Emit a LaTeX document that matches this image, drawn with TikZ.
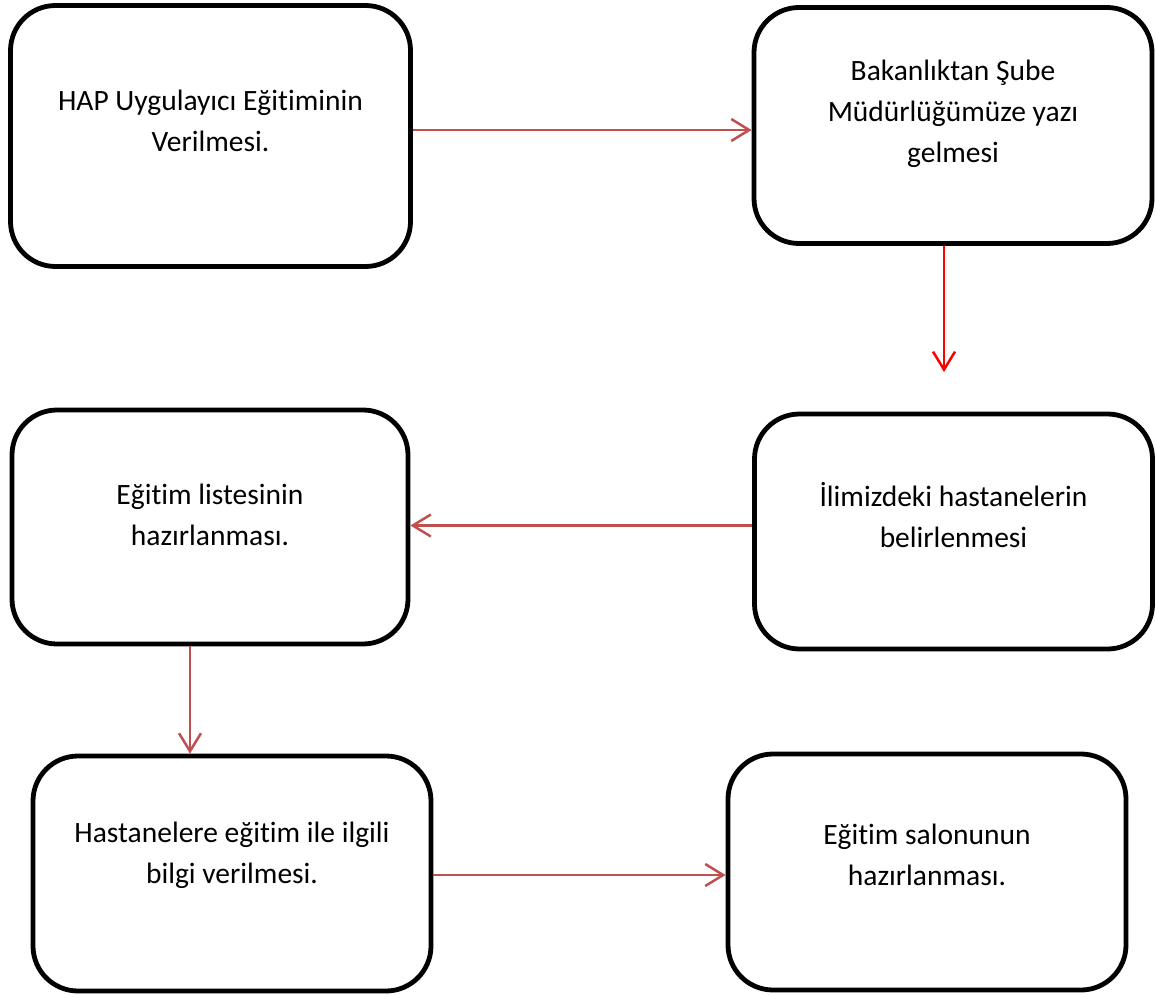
\documentclass[tikz,border=0pt]{standalone}
\usepackage{fontspec}
\setmainfont{Carlito}[Ligatures=NoCommon]
\usepackage{xcolor}
\usepackage{tikz}
\usetikzlibrary{arrows.meta, positioning, calc}
\definecolor{arrowred}{HTML}{C0504D}

\begin{document}
\begin{tikzpicture}[
    x=1pt, y=-1pt,
    box/.style={rectangle, draw, line width=4.8pt, rounded corners=45pt, minimum width=398pt, minimum height=236pt},
    txt/.style={align=center, font=\fontsize{29.5}{41}\selectfont},
    arrow/.style={line width=2.5pt, draw=arrowred, -{Straight Barb[length=18pt, width=22pt]}},
    redarrow/.style={line width=2.5pt, draw=red, -{Straight Barb[length=18pt, width=22pt]}}
]
\useasboundingbox (0,0) rectangle (1156,995);

\node[box, minimum width=400pt, minimum height=261pt] (hap) at (210.5,136) {};
\node[txt] (haptxt) at ([yshift=15pt]hap.center) {HAP Uygulayıcı Eğitiminin\\Verilmesi.};

\node[box] (bakan) at (953,125.5) {};
\node[txt] (bakantxt) at ([yshift=12pt]bakan.center) {Bakanlıktan Şube\\Müdürlüğümüze yazı\\gelmesi};

\node[box, minimum width=396pt, minimum height=234pt] (liste) at (210,527) {};
\node[txt] (listetxt) at ([yshift=12pt]liste.center) {Eğitim listesinin\\hazırlanması.};

\node[box, minimum height=235pt] (hastane) at (953.5,531.5) {};
\node[txt] (hastanetxt) at ([yshift=16pt]hastane.center) {İlimizdeki hastanelerin\\belirlenmesi};

\node[box, minimum height=235pt] (bilgi) at (232,873.5) {};
\node[txt] (bilgitxt) at ([yshift=18pt]bilgi.center) {Hastanelere eğitim ile ilgili\\bilgi verilmesi.};

\node[box] (salon) at (927,872) {};
\node[txt] (salontxt) at ([yshift=17pt]salon.center) {Eğitim salonunun\\hazırlanması.};

\coordinate (downend) at (944,372);

\draw[arrow] ([yshift=6pt]hap.east) -- ([yshift=6pt]hap.east -| bakan.west);
\draw[redarrow] (bakan.south -| downend) -- (downend);
\draw[arrow] ([yshift=6pt]hastane.west) -- ([yshift=6pt]hastane.west -| liste.east);
\draw[arrow] ([xshift=-20pt]liste.south) -- ([xshift=-20pt]liste.south |- bilgi.north);
\draw[arrow] ([yshift=-1.5pt]bilgi.east) -- ([yshift=-1.5pt]bilgi.east -| salon.west);

\end{tikzpicture}
\end{document}
